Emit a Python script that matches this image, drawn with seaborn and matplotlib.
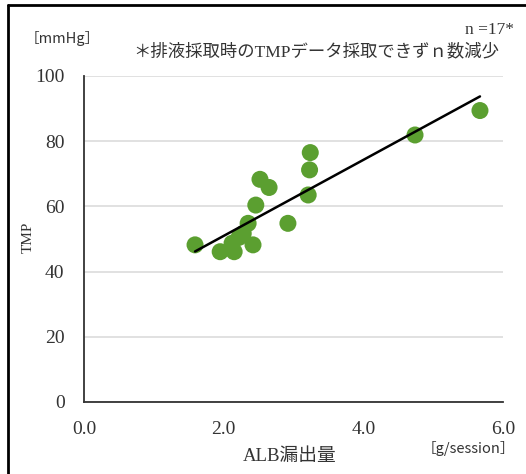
import matplotlib
matplotlib.use("Agg")
import matplotlib.pyplot as plt
from matplotlib.lines import Line2D
import seaborn as sns
import pandas as pd

# ALB leakage per session [g/session] and TMP [mmHg]
alb_leak = [1.59, 1.95, 2.15, 2.12, 2.22, 2.28, 2.35, 2.42, 2.46, 2.52,
            2.65, 2.92, 3.21, 3.23, 3.24, 4.74, 5.67]
tmp = [48.2, 46.1, 46.1, 48.7, 50.5, 51.7, 54.8, 48.2, 60.4, 68.3,
       65.8, 54.8, 63.5, 71.2, 76.5, 81.9, 89.4]
x_ticks = [0.0, 2.0, 4.0, 6.0]
y_ticks = [0, 20, 40, 60, 80, 100]

df = pd.DataFrame({"alb": alb_leak, "tmp": tmp})

sns.set_style("white")
serif_jp = ["Liberation Serif", "Noto Sans CJK JP"]

fig = plt.figure(figsize=(5.26, 4.74), dpi=100)
ax = fig.add_axes([0.1597, 0.1519, 0.7966, 0.6878])

green = "#5b9f30"
sns.scatterplot(data=df, x="alb", y="tmp", ax=ax, s=150, color=green,
                edgecolor="none", linewidth=0, zorder=3)
sns.regplot(data=df, x="alb", y="tmp", ax=ax, scatter=False, ci=None,
            line_kws={"color": "black", "lw": 1.8, "zorder": 4})

ax.set_xlim(0, 6)
ax.set_ylim(0, 100)
ax.set_xticks(x_ticks)
ax.set_xticklabels([f"{v:.1f}" for v in x_ticks])
ax.set_yticks(y_ticks)
ax.set_yticklabels([str(v) for v in y_ticks])
for lab in ax.get_xticklabels() + ax.get_yticklabels():
    lab.set_family("Liberation Serif")
    lab.set_fontsize(14)
    lab.set_color("#333333")

ax.grid(axis="y", color="#dcdcdc", lw=1.2)
ax.set_axisbelow(True)
ax.tick_params(axis="both", direction="in", length=5, width=1.2,
               color="#333333")
ax.tick_params(axis="x", pad=14)
ax.tick_params(axis="y", pad=14)
for side in ["top", "right"]:
    ax.spines[side].set_visible(False)
for side in ["left", "bottom"]:
    ax.spines[side].set_color("#333333")
    ax.spines[side].set_linewidth(1.3)

ax.set_xlabel("")
ax.set_ylabel("")

fig.text(290 / 526, 1 - 456 / 474, "ALB漏出量", family=serif_jp,
         fontsize=13.5, color="#333333", ha="center", va="center")
fig.text(28 / 526, 1 - 237 / 474, "TMP", family="Liberation Serif",
         fontsize=11, color="#333333", ha="center", va="center",
         rotation=90)
fig.text(62 / 526, 1 - 38 / 474, "［mmHg］", family=["Noto Sans CJK JP"],
         fontsize=10.5, color="#333333", ha="center", va="center")
fig.text(468 / 526, 1 - 448 / 474, "［g/session］", family=["Noto Sans CJK JP"],
         fontsize=10.5, color="#333333", ha="center", va="center")
fig.text(514 / 526, 1 - 30 / 474, "n =17*", family="Liberation Serif",
         fontsize=12.5, color="#333333", ha="right", va="center")
fig.text(499 / 526, 1 - 52 / 474, "＊排液採取時のTMPデータ採取できずｎ数減少",
         family=serif_jp, fontsize=12.5, color="#333333",
         ha="right", va="center")

# Outer frame (top and left edges)
fig.add_artist(Line2D([8 / 526, 8 / 526], [0, 1 - 5 / 474],
                      transform=fig.transFigure, color="black", lw=2))
fig.add_artist(Line2D([8 / 526, 1], [1 - 5 / 474, 1 - 5 / 474],
                      transform=fig.transFigure, color="black", lw=2))

fig.savefig("out.png", dpi=100)
